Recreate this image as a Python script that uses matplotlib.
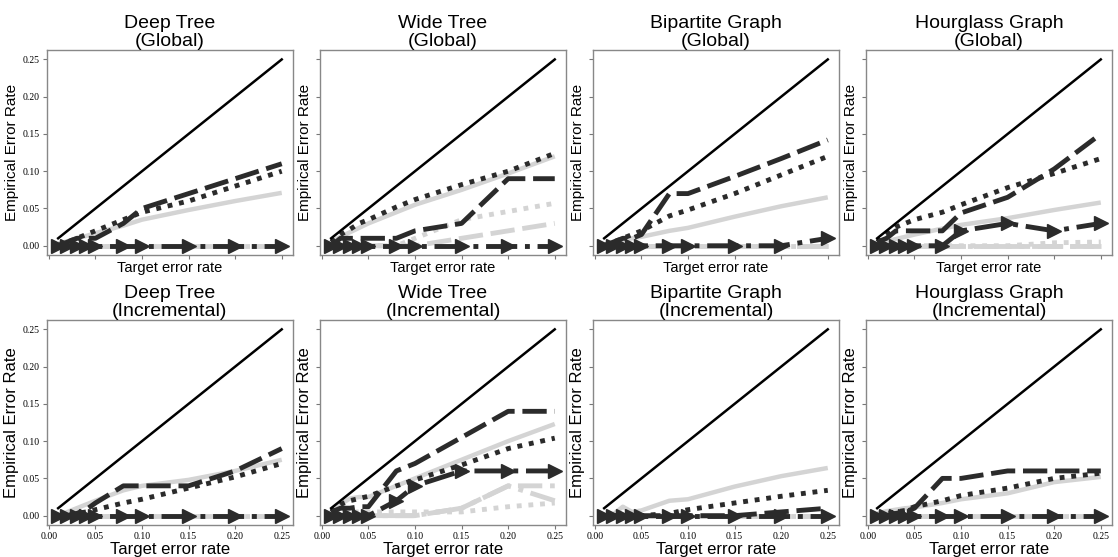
import matplotlib.pyplot as plt

plt.rcParams['font.family'] = ['Liberation Sans', 'DejaVu Sans']

x = [0.01, 0.02, 0.03, 0.04, 0.05, 0.08, 0.1, 0.15, 0.2, 0.25]

titles = ['Deep Tree\n(Global)', 'Wide Tree\n(Global)', 'Bipartite Graph\n(Global)', 'Hourglass Graph\n(Global)',
          'Deep Tree\n(Incremental)', 'Wide Tree\n(Incremental)', 'Bipartite Graph\n(Incremental)',
          'Hourglass Graph\n(Incremental)']

# one row per panel, same order as titles
light_solid = [
    [0.003, 0.006, 0.01, 0.013, 0.017, 0.027, 0.035, 0.048, 0.06, 0.071],
    [0.005, 0.012, 0.018, 0.024, 0.03, 0.045, 0.055, 0.075, 0.097, 0.12],
    [0.002, 0.005, 0.008, 0.01, 0.012, 0.02, 0.024, 0.039, 0.053, 0.065],
    [0.002, 0.006, 0.009, 0.012, 0.015, 0.023, 0.028, 0.037, 0.048, 0.058],
    [0.0, 0.005, 0.01, 0.015, 0.02, 0.034, 0.04, 0.048, 0.06, 0.075],
    [0.005, 0.015, 0.023, 0.025, 0.025, 0.04, 0.05, 0.075, 0.1, 0.123],
    [0.0, 0.002, 0.012, 0.005, 0.007, 0.02, 0.022, 0.039, 0.053, 0.064],
    [0.003, 0.006, 0.008, 0.01, 0.011, 0.017, 0.022, 0.03, 0.045, 0.052],
]
light_dashed = [
    [0, 0, 0, 0, 0, 0, 0, 0, 0, 0],
    [0, 0, 0, 0, 0, 0, 0, 0.01, 0.02, 0.03],
    [0, 0, 0, 0, 0, 0, 0, 0, 0, 0],
    [0, 0, 0, 0, 0, 0, 0, 0, 0, 0],
    [0, 0, 0, 0, 0, 0, 0, 0, 0, 0],
    [0, 0, 0, 0, 0, 0, 0, 0.01, 0.04, 0.04],
    [0, 0, 0, 0, 0, 0, 0, 0, 0, 0],
    [0, 0, 0, 0, 0, 0, 0, 0, 0, 0],
]
light_dotted = [
    [0, 0, 0, 0, 0, 0, 0, 0, 0, 0],
    [0, 0, 0, 0, 0, 0, 0.01, 0.035, 0.046, 0.057],
    [0, 0, 0, 0, 0, 0, 0, 0, 0, 0],
    [0, 0, 0, 0, 0, 0, 0, 0, 0.004, 0.005],
    [0, 0, 0, 0, 0, 0, 0, 0, 0, 0],
    [0.0, 0.005, 0.005, 0.005, 0.005, 0.005, 0.005, 0.005, 0.012, 0.017],
    [0, 0, 0, 0, 0, 0, 0, 0, 0, 0],
    [0, 0, 0, 0, 0, 0, 0, 0, 0, 0],
]
light_dashdot = [
    [0, 0, 0, 0, 0, 0, 0, 0, 0, 0],
    [0, 0, 0, 0, 0, 0, 0, 0, 0, 0],
    [0, 0, 0, 0, 0, 0, 0, 0, 0, 0],
    [0, 0, 0, 0, 0, 0, 0, 0, 0, 0],
    [0, 0, 0, 0, 0, 0, 0, 0, 0, 0],
    [0, 0, 0, 0, 0, 0, 0, 0.01, 0.04, 0.02],
    [0, 0, 0, 0, 0, 0, 0, 0, 0, 0],
    [0, 0, 0, 0, 0, 0, 0, 0, 0, 0],
]
dark_dashed = [
    [0.0, 0.005, 0.01, 0.01, 0.01, 0.03, 0.05, 0.07, 0.09, 0.11],
    [0.0, 0.01, 0.01, 0.01, 0.01, 0.01, 0.02, 0.03, 0.09, 0.09],
    [0.0, 0.005, 0.01, 0.01, 0.015, 0.07, 0.07, 0.093, 0.117, 0.142],
    [0.005, 0.01, 0.02, 0.02, 0.02, 0.02, 0.044, 0.065, 0.103, 0.15],
    [0.0, 0.0, 0.003, 0.008, 0.017, 0.04, 0.04, 0.04, 0.06, 0.09],
    [0.005, 0.01, 0.01, 0.012, 0.012, 0.06, 0.07, 0.105, 0.14, 0.14],
    [0, 0, 0, 0, 0, 0, 0, 0, 0.005, 0.01],
    [0.0, 0.0, 0.003, 0.005, 0.01, 0.05, 0.05, 0.06, 0.06, 0.06],
]
dark_dotted = [
    [0.0, 0.005, 0.01, 0.015, 0.02, 0.035, 0.045, 0.06, 0.08, 0.1],
    [0.005, 0.015, 0.022, 0.03, 0.035, 0.052, 0.062, 0.082, 0.1, 0.124],
    [0.0, 0.005, 0.01, 0.015, 0.02, 0.04, 0.048, 0.07, 0.095, 0.12],
    [0.005, 0.015, 0.025, 0.03, 0.035, 0.045, 0.055, 0.078, 0.097, 0.117],
    [0.0, 0.0, 0.003, 0.005, 0.008, 0.017, 0.022, 0.037, 0.052, 0.07],
    [0.005, 0.015, 0.02, 0.023, 0.026, 0.04, 0.048, 0.068, 0.09, 0.104],
    [0, 0, 0, 0, 0, 0.003, 0.008, 0.017, 0.026, 0.034],
    [0.0, 0.003, 0.005, 0.007, 0.012, 0.02, 0.027, 0.037, 0.05, 0.057],
]
dark_dashdot = [
    [0, 0, 0, 0, 0, 0, 0, 0, 0, 0],
    [0, 0, 0, 0, 0, 0, 0, 0, 0, 0],
    [0, 0, 0, 0, 0, 0, 0, 0, 0, 0.01],
    [0, 0, 0, 0, 0, 0, 0.02, 0.03, 0.02, 0.03],
    [0, 0, 0, 0, 0, 0, 0, 0, 0, 0],
    [0, 0, 0, 0, 0, 0.02, 0.04, 0.06, 0.06, 0.06],
    [0, 0, 0, 0, 0, 0, 0, 0, 0, 0],
    [0, 0, 0, 0, 0, 0, 0, 0, 0, 0],
]

light = '#d4d4d4'
dark = '#2b2b2b'

fig, axes = plt.subplots(2, 4, figsize=(11.18, 5.57), dpi=100, sharex=True, sharey=True)
fig.subplots_adjust(left=0.042, right=0.9946, top=0.91, bottom=0.0575, wspace=0.11, hspace=0.317)

for i, ax in enumerate(axes.flat):
    row, col = divmod(i, 4)
    ax.plot(x, light_solid[i], color=light, lw=3.2, solid_capstyle='butt')
    ax.plot(x, light_dashed[i], color=light, lw=3.5, linestyle=(0, (5, 1.6)))
    ax.plot(x, light_dotted[i], color=light, lw=3.5, linestyle=(0, (1, 1.4)))
    ax.plot(x, light_dashdot[i], color=light, lw=3.5, linestyle='-.')
    ax.plot(x, dark_dashed[i], color=dark, lw=3.5, linestyle=(0, (5, 1.6)))
    ax.plot(x, dark_dotted[i], color=dark, lw=3.5, linestyle=(0, (1, 1.4)))
    ax.plot(x, dark_dashdot[i], color=dark, lw=3.5, linestyle='-.', marker='>', markersize=10)
    ax.plot(x, x, color='black', lw=1.8)

    # top row labels are a bit smaller than the bottom row in the original
    ax.set_title(titles[i], fontsize=14, linespacing=1.1, pad=3)
    ax.set_xlabel('Target error rate', fontsize=10.5 if row == 0 else 12, labelpad=1)
    ax.set_ylabel('Empirical Error Rate', fontsize=11 if row == 0 else 12, labelpad=3)
    ax.set_xticks([0.0, 0.05, 0.1, 0.15, 0.2, 0.25])
    ax.set_yticks([0.0, 0.05, 0.1, 0.15, 0.2, 0.25])
    ax.xaxis.set_major_formatter(plt.FormatStrFormatter('%.2f'))
    ax.yaxis.set_major_formatter(plt.FormatStrFormatter('%.2f'))
    ax.tick_params(labelsize=7, length=3, color='#777777', pad=2,
                   labelbottom=(row == 1), labelleft=(col == 0))
    for lab in ax.get_xticklabels() + ax.get_yticklabels():
        lab.set_family('Liberation Serif')
    for s in ax.spines.values():
        s.set_color('#888888')
        s.set_linewidth(1.0)

plt.savefig('out.png', dpi=100)
